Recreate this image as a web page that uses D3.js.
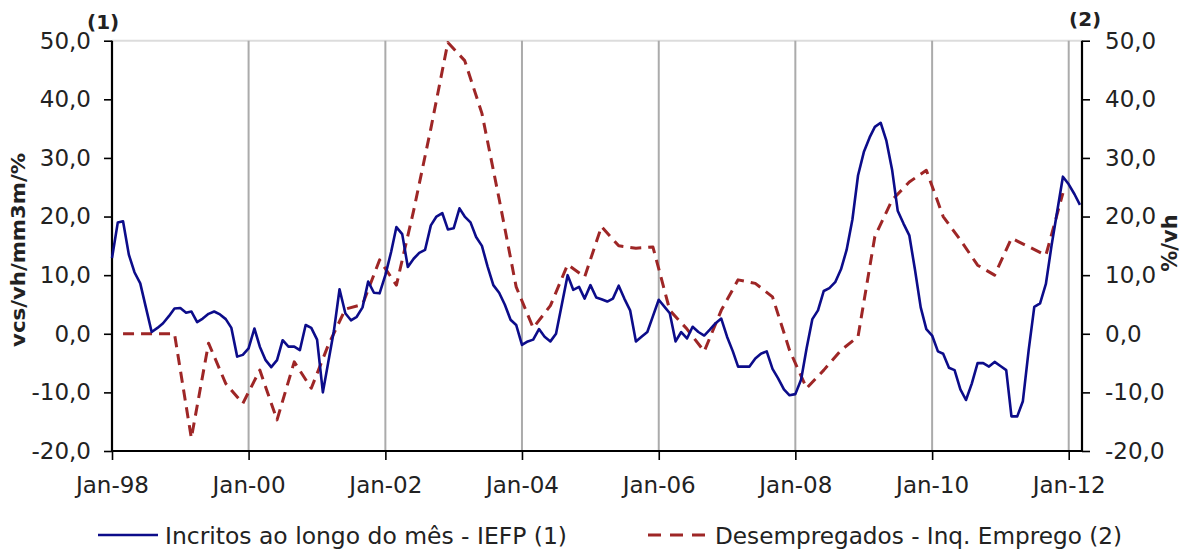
<!DOCTYPE html>
<html><head><meta charset="utf-8">
<script src="https://cdn.jsdelivr.net/npm/d3@7"></script>
<style>
body{margin:0;background:#fff;}
svg{display:block;font-family:"DejaVu Sans",Verdana,sans-serif;}
</style>
</head><body>
<svg id="chart" width="1191" height="551"></svg>
<script>
// ---------- data ----------
const seriesNames = ["Incritos ao longo do mês - IEFP (1)", "Desempregados - Inq. Emprego (2)"];
const leftAxisTitle = "vcs/vh/mm3m/%";
const rightAxisTitle = "%/vh";
const leftNote = "(1)";
const rightNote = "(2)";
const firstMonth = [1998, 0];          // monthly series starts Jan-98
const firstQuarterMonth = [1998, 2];   // quarterly series starts Mar-98
// monthly, Jan-98 .. Mar-12
const inscritos = [
  12.9, 19.0, 19.2, 13.5, 10.5, 8.6, 4.5, 0.3, 1.0, 1.8, 3.0, 4.3,          // 1998
  4.4, 3.6, 3.8, 2.0, 2.6, 3.4, 3.8, 3.3, 2.5, 1.0, -3.9, -3.6,             // 1999
  -2.5, 0.9, -2.2, -4.5, -5.7, -4.5, -1.1, -2.2, -2.2, -2.8, 1.5, 1.0,      // 2000
  -1.0, -10.0, -5.0, 0.5, 7.6, 3.5, 2.3, 2.9, 4.5, 8.9, 7.0, 6.9,           // 2001
  10.0, 14.0, 18.2, 17.0, 11.4, 12.8, 13.8, 14.3, 18.5, 20.0, 20.6, 17.8,   // 2002
  18.0, 21.4, 20.0, 19.0, 16.5, 15.0, 11.5, 8.3, 7.0, 5.0, 2.4, 1.5,        // 2003
  -1.9, -1.3, -1.0, 0.8, -0.5, -1.3, 0.0, 5.0, 10.0, 7.5, 8.0, 6.0,         // 2004
  8.3, 6.2, 5.9, 5.5, 6.0, 8.2, 6.0, 4.0, -1.3, -0.5, 0.3, 3.0,             // 2005
  5.8, 4.6, 3.5, -1.3, 0.3, -0.8, 1.2, 0.3, -0.3, 0.7, 1.8, 2.6,            // 2006
  -0.5, -3.0, -5.6, -5.6, -5.6, -4.2, -3.4, -3.0, -6.0, -7.6, -9.5, -10.5,  // 2007
  -10.3, -7.8, -2.5, 2.5, 4.0, 7.3, 7.8, 8.8, 11.0, 14.3, 19.5, 27.0,       // 2008
  31.0, 33.5, 35.3, 36.0, 33.0, 28.0, 21.0, 18.8, 16.8, 11.0, 4.5, 0.8,     // 2009
  -0.3, -3.0, -3.4, -5.8, -6.2, -9.5, -11.3, -8.5, -5.0, -5.0, -5.6, -4.8,  // 2010
  -5.5, -6.2, -14.1, -14.1, -11.5, -2.8, 4.6, 5.2, 8.5, 15.0, 21.0, 26.8,   // 2011
  25.5, 23.8, 22.0                                                           // 2012
];
// quarterly (Mar, Jun, Sep, Dec), Mar-98 .. Dec-11
const desempregados = [
  0.0, 0.0, 0.0, 0.0,        // 1998
  -17.8, -1.6, -8.5, -11.9,  // 1999
  -6.2, -14.7, -4.8, -9.3,   // 2000
  -2.0, 4.2, 5.0, 12.6,      // 2001
  8.3, 21.0, 35.0, 49.7,     // 2002
  46.6, 37.6, 23.0, 8.0,     // 2003
  1.0, 4.8, 11.8, 9.7,       // 2004
  18.3, 15.0, 14.6, 14.8,    // 2005
  4.0, 0.8, -3.0, 4.0,       // 2006
  9.2, 8.6, 6.3, -2.8,       // 2007
  -9.3, -6.2, -2.8, -0.5,    // 2008
  16.6, 22.8, 25.9, 27.9,    // 2009
  20.0, 16.0, 11.7, 10.0,    // 2010
  16.3, 14.85, 13.4, 24.0    // 2011
];
const yTickValues = [-20, -10, 0, 10, 20, 30, 40, 50];
const xTickYears = [1998, 2000, 2002, 2004, 2006, 2008, 2010, 2012];
const xDomain = [new Date(1998, 0, 1), new Date(2012, 2, 12)];
const yDomain = [-20, 50];

// ---------- layout ----------
const L = 112, R = 1082, T = 40.7, B = 451;
const blue = "#0c0c8a", red = "#9e2626", ink = "#222";
const fs = 23;

const svg = d3.select("#chart");
const x = d3.scaleTime().domain(xDomain).range([L, R]);
const y = d3.scaleLinear().domain(yDomain).range([B, T]);
const loc = d3.formatLocale({decimal: ",", thousands: ".", grouping: [3], currency: ["", "€"], minus: "-"});
const yFmt = loc.format(".1f");
const xFmt = d3.timeFormat("%b-%y");

const blueData = inscritos.map((v, i) => ({d: new Date(firstMonth[0], firstMonth[1] + i, 1), v}));
const redData = desempregados.map((v, i) => ({d: new Date(firstQuarterMonth[0], firstQuarterMonth[1] + 3 * i, 1), v}));
const xTicks = xTickYears.map(yr => new Date(yr, 0, 1));

// top border
svg.append("line").attr("x1", L).attr("x2", R).attr("y1", T).attr("y2", T)
  .attr("stroke", "#dcdcdc").attr("stroke-width", 2);

// vertical gridlines
svg.append("g").selectAll("line").data(xTicks.slice(1)).join("line")
  .attr("x1", d => x(d)).attr("x2", d => x(d)).attr("y1", T).attr("y2", B)
  .attr("stroke", "#ababab").attr("stroke-width", 2);

// axes
function styleAxis(g) {
  g.select(".domain").remove();
  g.selectAll(".tick line").attr("stroke", "#000").attr("stroke-width", 1.6);
  g.selectAll("text").attr("fill", ink).attr("font-size", fs).attr("font-family", '"DejaVu Sans",Verdana,sans-serif');
}
svg.append("g").attr("transform", `translate(${L},0)`)
  .call(d3.axisLeft(y).tickValues(yTickValues).tickFormat(yFmt).tickSize(8).tickSizeOuter(0).tickPadding(13))
  .call(styleAxis);
svg.append("g").attr("transform", `translate(${R},0)`)
  .call(d3.axisRight(y).tickValues(yTickValues).tickFormat(yFmt).tickSize(8).tickSizeOuter(0).tickPadding(15))
  .call(styleAxis);
svg.append("g").attr("transform", `translate(0,${B})`)
  .call(d3.axisBottom(x).tickValues(xTicks).tickFormat(xFmt).tickSize(9).tickSizeOuter(0).tickPadding(17))
  .call(styleAxis);

// axis lines
svg.append("line").attr("x1", L).attr("x2", L).attr("y1", T).attr("y2", B + 1).attr("stroke", "#000").attr("stroke-width", 2.2);
svg.append("line").attr("x1", R).attr("x2", R).attr("y1", T).attr("y2", B + 1).attr("stroke", "#000").attr("stroke-width", 2.2);
svg.append("line").attr("x1", L - 1).attr("x2", R + 1).attr("y1", B).attr("y2", B).attr("stroke", "#000").attr("stroke-width", 2.2);

// series
const line = d3.line().x(d => x(d.d)).y(d => y(d.v));
svg.append("path").datum(redData).attr("d", line).attr("fill", "none")
  .attr("stroke", red).attr("stroke-width", 3).attr("stroke-dasharray", "11,7").attr("stroke-linejoin", "round");
svg.append("path").datum(blueData).attr("d", line).attr("fill", "none")
  .attr("stroke", blue).attr("stroke-width", 2.6).attr("stroke-linejoin", "round");

// axis titles
svg.append("text").attr("transform", "translate(25,250) rotate(-90)").attr("text-anchor", "middle")
  .attr("font-size", 20).attr("font-weight", "bold").attr("fill", ink)
  .attr("textLength", 194).attr("lengthAdjust", "spacingAndGlyphs").text(leftAxisTitle);
svg.append("text").attr("transform", "translate(1177,243) rotate(-90)").attr("text-anchor", "middle")
  .attr("font-size", 21).attr("font-weight", "bold").attr("fill", ink).text(rightAxisTitle);
svg.append("text").attr("x", 87).attr("y", 29).attr("font-size", 20).attr("font-weight", "bold").attr("fill", ink).text(leftNote);
svg.append("text").attr("x", 1069).attr("y", 26).attr("font-size", 20).attr("font-weight", "bold").attr("fill", ink).text(rightNote);
svg.append("rect").attr("x", 1000).attr("y", 0).attr("width", 191).attr("height", 12).attr("fill", "#fff");

// legend
const lg = svg.append("g");
lg.append("line").attr("x1", 98).attr("x2", 158).attr("y1", 535).attr("y2", 535).attr("stroke", blue).attr("stroke-width", 2.6);
lg.append("text").attr("x", 165).attr("y", 544).attr("font-size", fs).attr("fill", ink)
  .attr("textLength", 402).attr("lengthAdjust", "spacingAndGlyphs").text(seriesNames[0]);
lg.append("line").attr("x1", 648).attr("x2", 710).attr("y1", 535).attr("y2", 535).attr("stroke", red).attr("stroke-width", 3).attr("stroke-dasharray", "13,9");
lg.append("text").attr("x", 715).attr("y", 544).attr("font-size", fs).attr("fill", ink)
  .attr("textLength", 407).attr("lengthAdjust", "spacingAndGlyphs").text(seriesNames[1]);
</script>
</body></html>
